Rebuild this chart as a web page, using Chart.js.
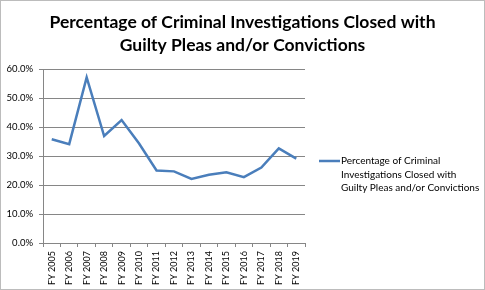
<!DOCTYPE html>
<html>
<head>
<meta charset="utf-8">
<script src="https://cdn.jsdelivr.net/npm/chart.js@4"></script>
<style>
  html, body { margin: 0; padding: 0; background: #fff; }
  #wrap { position: relative; width: 483px; height: 288px; border: 1px solid #bcbcbc; }
</style>
</head>
<body>
<div id="wrap"><canvas id="c" width="483" height="288"></canvas></div>
<script>
// chart data
const years = ['FY 2005', 'FY 2006', 'FY 2007', 'FY 2008', 'FY 2009', 'FY 2010', 'FY 2011', 'FY 2012',
               'FY 2013', 'FY 2014', 'FY 2015', 'FY 2016', 'FY 2017', 'FY 2018', 'FY 2019'];
const closedPct = [35.8, 34.1, 57.1, 36.9, 42.4, 34.3, 25.0, 24.7, 22.1, 23.5, 24.4, 22.7, 26.0, 32.6, 29.1];
const seriesLabel = ['Percentage of Criminal', 'Investigations Closed with', 'Guilty Pleas and/or Convictions'];
const titleLines = ['Percentage of Criminal Investigations Closed with', 'Guilty Pleas and/or Convictions'];
const yTicks = [0, 10, 20, 30, 40, 50, 60];

const font = 'Lato, "Open Sans", sans-serif';
const lineColor = '#4a7ebb';

// title and legend drawn by hand: title centred on the whole box, legend label wraps over three lines
const overlay = {
    id: 'overlay',
    afterDraw(chart) {
        const ctx = chart.ctx;
        ctx.save();
        ctx.fillStyle = '#000';
        ctx.textAlign = 'center';
        ctx.textBaseline = 'middle';
        ctx.font = 'bold 17.5px ' + font;
        titleLines.forEach((t, i) => ctx.fillText(t, chart.width / 2, 21 + i * 23));

        const x = 318, y = 160;
        ctx.strokeStyle = lineColor;
        ctx.lineWidth = 2.5;
        ctx.beginPath();
        ctx.moveTo(x, y);
        ctx.lineTo(x + 21, y);
        ctx.stroke();
        ctx.textAlign = 'left';
        ctx.font = '10px ' + font;
        seriesLabel.forEach((t, i) => ctx.fillText(t, x + 22, y + i * 13.5));
        ctx.restore();
    }
};

new Chart(document.getElementById('c'), {
    type: 'line',
    data: {
        labels: years,
        datasets: [{
            label: seriesLabel.join(' '),
            data: closedPct,
            borderColor: lineColor,
            borderWidth: 2.5,
            pointRadius: 0,
            tension: 0,
            fill: false
        }]
    },
    options: {
        responsive: false,
        animation: false,
        layout: { padding: { left: 0, right: 179, top: 68, bottom: 0 } },
        plugins: {
            legend: { display: false },
            tooltip: { enabled: false },
            title: { display: false }
        },
        scales: {
            x: {
                offset: true,
                afterFit: axis => { axis.height = 46; },
                grid: { display: true, offset: true, drawOnChartArea: false, drawTicks: true, tickLength: 4, color: '#868686' },
                border: { color: '#868686' },
                ticks: { color: '#000', font: { family: font, size: 9 }, minRotation: 90, maxRotation: 90, padding: 4, autoSkip: false }
            },
            y: {
                min: 0,
                max: 60,
                afterBuildTicks: axis => { axis.ticks = yTicks.map(v => ({ value: v })); },
                afterFit: axis => { axis.width = 42; },
                grid: { color: '#868686', tickLength: 4 },
                border: { color: '#868686' },
                ticks: { color: '#000', font: { family: font, size: 9.5 }, padding: 6, callback: v => v.toFixed(1) + '%' }
            }
        }
    },
    plugins: [overlay]
});
</script>
</body>
</html>
